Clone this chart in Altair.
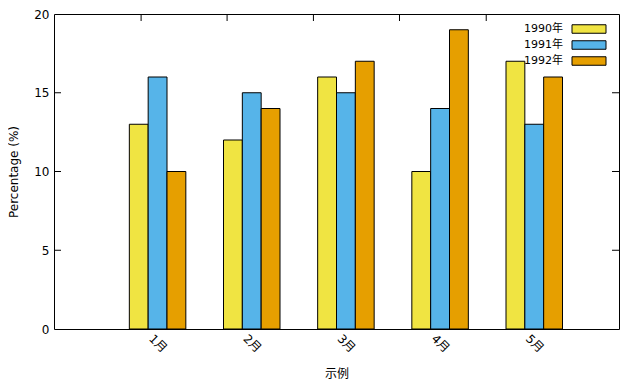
import altair as alt
import pandas as pd

months = ["1月", "2月", "3月", "4月", "5月"]
series = ["1990年", "1991年", "1992年"]
v1990 = [13, 12, 16, 10, 17]
v1991 = [16, 15, 15, 14, 13]
v1992 = [10, 14, 17, 19, 16]
colors = ["#f0e442", "#56b4e9", "#e69f00"]
y_ticks = [0, 5, 10, 15, 20]
inner_y_ticks = [5, 10, 15]
top_ticks = [-0.175, 0.738, 1.655, 2.569, 3.49]

rows = []
for si, (name, vals) in enumerate(zip(series, [v1990, v1991, v1992])):
    for mi, v in enumerate(vals):
        rows.append({"series": name, "s": si, "m": mi, "value": v})
df = pd.DataFrame(rows)

W, H = 565, 315
FONT = "DejaVu Sans, Noto Sans CJK SC, sans-serif"
xscale = alt.Scale(domain=[-1.1, 4.9], nice=False, zero=False)
yscale = alt.Scale(domain=[0, 20], nice=False)
label_expr = "[" + ",".join(f"'{m}'" for m in months) + "][datum.value]"

xaxis = alt.Axis(
    values=list(range(len(months))), labelExpr=label_expr, labelAngle=45,
    labelAlign="center", labelBaseline="middle", labelPadding=14,
    ticks=False, domain=False, grid=False, title="示例",
    titleX=W / 2, titleY=44, titleBaseline="middle", titleFontWeight="normal")
yaxis = alt.Axis(
    values=y_ticks, ticks=False, domain=False, grid=False, labelPadding=5,
    title="Percentage (%)", titleX=-41, titleY=H / 2, titleAngle=-90,
    titleAlign="center", titleBaseline="middle", titleFontWeight="normal")

bars = alt.Chart(df).transform_calculate(
    x0="datum.m + (datum.s - 1) * 0.2 - 0.1",
    x1="datum.m + (datum.s - 1) * 0.2 + 0.1",
).mark_rect(stroke="black", strokeWidth=1, opacity=1).encode(
    x=alt.X("x0:Q", scale=xscale, axis=xaxis),
    x2="x1:Q",
    y=alt.Y("value:Q", scale=yscale, axis=yaxis),
    y2=alt.datum(0),
    color=alt.Color("series:N", scale=alt.Scale(domain=series, range=colors),
                    legend=alt.Legend(
                        title=None, orient="none", legendX=529.5, legendY=9.5,
                        symbolType="M-4,-1H4V1H-4Z", symbolSize=72.25,
                        symbolStrokeColor="black", symbolStrokeWidth=1,
                        symbolOpacity=1, labelAlign="right",
                        labelOffset={"expr": "-31.5"},
                        rowPadding=3, padding=0, labelFontSize=11, labelFont=FONT,
                        labelColor="black")),
)

left_t = alt.Chart(pd.DataFrame({"value": inner_y_ticks})).mark_rule(color="black").encode(
    y=alt.Y("value:Q", scale=yscale, axis=yaxis), x=alt.value(0), x2=alt.value(7))
right_t = alt.Chart(pd.DataFrame({"value": inner_y_ticks})).mark_rule(color="black").encode(
    y=alt.Y("value:Q", scale=yscale, axis=yaxis), x=alt.value(W - 7), x2=alt.value(W))
top_t = alt.Chart(pd.DataFrame({"x0": top_ticks})).mark_rule(color="black").encode(
    x=alt.X("x0:Q", scale=xscale, axis=xaxis), y=alt.value(0), y2=alt.value(7))

chart = alt.layer(bars, left_t, right_t, top_t).properties(
    width=W, height=H,
    autosize=alt.AutoSizeParams(type="none"),
    padding={"left": 46, "top": 6, "right": 10, "bottom": 52},
).configure_view(stroke="black", strokeWidth=1).configure_axis(
    labelFont=FONT, titleFont=FONT, labelFontSize=12, titleFontSize=12,
    labelColor="black", titleColor="black")

chart.save("out.html", embed_options={"renderer": "svg", "actions": False})
